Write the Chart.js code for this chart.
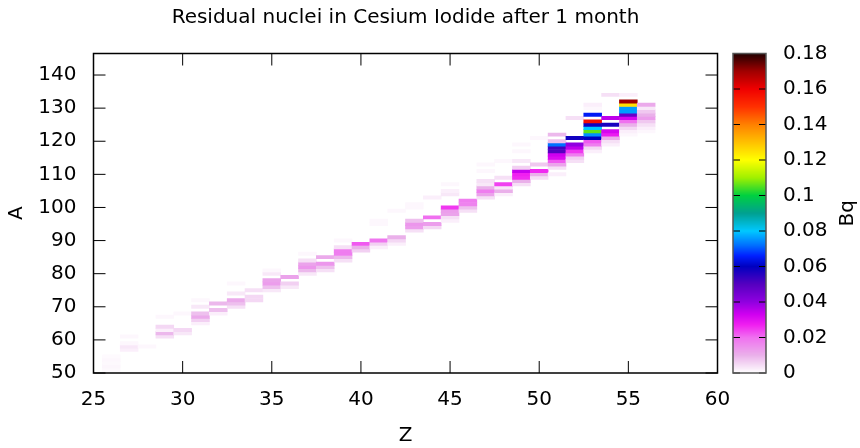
<!DOCTYPE html>
<html>
<head>
<meta charset="utf-8">
<script src="https://cdn.jsdelivr.net/npm/chart.js@4/dist/chart.umd.min.js"></script>
<style>
  html, body { margin: 0; padding: 0; background: #fff; }
</style>
</head>
<body>
<canvas id="chart" width="860" height="448"></canvas>
<script>
// Proton number of each column of the map
const Z_VALUES = [26, 27, 28, 29, 30, 31, 32, 33, 34, 35, 36, 37, 38, 39, 40, 41,
                  42, 43, 44, 45, 46, 47, 48, 49, 50, 51, 52, 53, 54, 55, 56];
// Mass number of the first cell listed for each column
const A_FIRST = [51, 57, 58, 61, 62, 65, 68, 70, 72, 75, 76, 80, 81, 84, 87, 88,
                 89, 93, 94, 96, 99, 103, 104, 107, 109, 110, 114, 117, 119, 122, 123];
// Activity (Bq) of consecutive mass numbers, starting at A_FIRST
const BQ = [
  [0.0008, 0.0012, 0.0008, 0.001, 0.0006],
  [0.002, 0.003, 0.001, 0, 0.001],
  [0.001],
  [0.004, 0.009, 0.002, 0.005, 0, 0, 0.001],
  [0.003, 0.005, 0, 0, 0, 0, 0.001],
  [0.002, 0.006, 0.011, 0.008, 0, 0.003, 0, 0.001],
  [0.002, 0.008, 0, 0.009],
  [0.004, 0.008, 0.011, 0, 0.003, 0, 0, 0.001],
  [0.005, 0.005, 0, 0.004],
  [0.003, 0.008, 0.013, 0.012, 0, 0.003, 0.001],
  [0.003, 0.006, 0, 0.012],
  [0.003, 0.009, 0.014, 0.012, 0.004, 0, 0.001],
  [0.004, 0.008, 0.014, 0, 0.011],
  [0.004, 0.009, 0.018, 0.018, 0.004, 0, 0.001],
  [0.006, 0.010, 0.022],
  [0.002, 0.006, 0.019, 0, 0, 0, 0, 0.001, 0.001],
  [0.002, 0.005, 0.010, 0, 0, 0, 0, 0, 0, 0, 0.001],
  [0.004, 0.013, 0.014, 0.008, 0, 0, 0, 0.001, 0.001],
  [0.005, 0.013, 0, 0.020, 0, 0, 0, 0, 0, 0.002],
  [0.002, 0.004, 0.012, 0.013, 0.025, 0, 0, 0, 0.003, 0.002, 0, 0.001],
  [0.004, 0.008, 0.017, 0.018],
  [0.004, 0.012, 0.018, 0.010, 0.003, 0.004, 0, 0, 0.001, 0, 0.001],
  [0.002, 0.010, 0.003, 0.024, 0, 0.004, 0, 0, 0, 0, 0.001],
  [0.004, 0.010, 0.026, 0.027, 0.034, 0.006, 0, 0.003, 0, 0, 0.001, 0, 0.001],
  [0.004, 0.010, 0.026, 0, 0.007, 0, 0, 0, 0, 0, 0, 0, 0.001],
  [0.002, 0, 0.004, 0.012, 0.022, 0.031, 0.033, 0.050, 0.052, 0.072, 0.008, 0, 0.009],
  [0.004, 0.006, 0.018, 0.025, 0.035, 0.040, 0, 0.058, 0, 0, 0, 0, 0, 0.004],
  [0.002, 0.005, 0.018, 0.022, 0.060, 0.075, 0.106, 0.080, 0.058, 0.157, 0, 0.065, 0, 0.001, 0.002],
  [0.002, 0.004, 0.011, 0.028, 0.032, 0, 0.057, 0, 0.035, 0, 0, 0, 0, 0, 0, 0.004],
  [0.001, 0.002, 0.005, 0.010, 0.020, 0.032, 0.047, 0.076, 0.076, 0.125, 0.170, 0, 0.002],
  [0.001, 0.002, 0.004, 0.007, 0.013, 0.010, 0.007, 0.003, 0.011]
];
// Axis ranges and tick steps
const Z_RANGE = [25, 60];
const A_RANGE = [50, 146.5];
const BQ_RANGE = [0, 0.18];
const Z_STEP = 5, A_STEP = 10, BQ_STEP = 0.02;

// Colour palette: activity -> colour stops
const PALETTE = [
  [0.000, [255, 255, 255]], [0.005, [244, 216, 244]], [0.010, [234, 176, 234]],
  [0.020, [240, 112, 240]], [0.027, [240, 32, 240]], [0.033, [208, 0, 240]],
  [0.040, [144, 0, 224]], [0.050, [85, 0, 192]], [0.060, [0, 0, 192]],
  [0.066, [0, 32, 255]], [0.072, [0, 112, 255]], [0.080, [0, 200, 255]],
  [0.090, [0, 160, 144]], [0.100, [0, 208, 64]], [0.110, [160, 240, 0]],
  [0.120, [255, 255, 0]], [0.130, [255, 192, 0]], [0.140, [255, 128, 0]],
  [0.150, [255, 48, 0]], [0.160, [240, 0, 0]], [0.170, [160, 0, 0]],
  [0.180, [32, 0, 0]]
];

function colorFor(v) {
  if (v <= PALETTE[0][0]) return 'rgb(255,255,255)';
  for (let i = 1; i < PALETTE.length; i++) {
    const [v1, c1] = PALETTE[i];
    if (v <= v1) {
      const [v0, c0] = PALETTE[i - 1];
      const t = (v - v0) / (v1 - v0);
      const c = c0.map((a, k) => Math.round(a + (c1[k] - a) * t));
      return `rgb(${c[0]},${c[1]},${c[2]})`;
    }
  }
  const c = PALETTE[PALETTE.length - 1][1];
  return `rgb(${c[0]},${c[1]},${c[2]})`;
}

// One floating bar per nuclide: spans A-0.5 .. A+0.5 at its Z
const cells = [];
Z_VALUES.forEach((z, i) => {
  BQ[i].forEach((v, k) => {
    if (v > 0) {
      const a = A_FIRST[i] + k;
      cells.push({ x: z, y: [a - 0.5, a + 0.5], v: v });
    }
  });
});

const FONT = { family: 'DejaVu Sans', size: 20 };
const TICK_LEN = 12;
const CB_GAP = 15.5, CB_WIDTH = 33, CB_TICK = 7;

const frameAndColorbar = {
  id: 'frameAndColorbar',
  afterDatasetsDraw(chart) {
    const { ctx, chartArea: ca, scales } = chart;
    const xs = scales.x, ys = scales.y, cb = scales.cb;
    ctx.save();

    // inward tick marks on all four sides
    ctx.strokeStyle = '#000';
    ctx.lineWidth = 1;
    ctx.beginPath();
    xs.ticks.forEach(t => {
      const px = xs.getPixelForValue(t.value);
      ctx.moveTo(px, ca.bottom); ctx.lineTo(px, ca.bottom - TICK_LEN);
      ctx.moveTo(px, ca.top); ctx.lineTo(px, ca.top + TICK_LEN);
    });
    ys.ticks.forEach(t => {
      const py = ys.getPixelForValue(t.value);
      ctx.moveTo(ca.left, py); ctx.lineTo(ca.left + TICK_LEN, py);
      ctx.moveTo(ca.right, py); ctx.lineTo(ca.right - TICK_LEN, py);
    });
    ctx.stroke();

    // plot frame
    ctx.lineWidth = 1.5;
    ctx.strokeRect(ca.left, ca.top, ca.right - ca.left, ca.bottom - ca.top);

    // colour bar
    const x0 = ca.right + CB_GAP, x1 = x0 + CB_WIDTH;
    const top = cb.getPixelForValue(BQ_RANGE[1]);
    const bottom = cb.getPixelForValue(BQ_RANGE[0]);
    for (let y = Math.floor(top); y < Math.ceil(bottom); y++) {
      ctx.fillStyle = colorFor(cb.getValueForPixel(y + 0.5));
      ctx.fillRect(x0, y, CB_WIDTH, 1);
    }
    ctx.strokeStyle = '#000';
    ctx.lineWidth = 1;
    ctx.beginPath();
    cb.ticks.forEach(t => {
      const py = cb.getPixelForValue(t.value);
      ctx.moveTo(x0, py); ctx.lineTo(x0 + CB_TICK, py);
      ctx.moveTo(x1, py); ctx.lineTo(x1 - CB_TICK, py);
    });
    ctx.stroke();
    ctx.strokeStyle = '#555';
    ctx.lineWidth = 1.5;
    ctx.strokeRect(x0, top, CB_WIDTH, bottom - top);

    // colour bar label, read bottom to top
    ctx.fillStyle = '#000';
    ctx.font = `${FONT.size}px ${FONT.family}`;
    ctx.textAlign = 'center';
    ctx.textBaseline = 'middle';
    ctx.translate(848, (top + bottom) / 2);
    ctx.rotate(-Math.PI / 2);
    ctx.fillText('Bq', 0, 0);
    ctx.restore();
  }
};

new Chart(document.getElementById('chart'), {
  type: 'bar',
  data: {
    datasets: [{
      data: cells,
      backgroundColor: c => colorFor(c.raw ? c.raw.v : 0),
      borderWidth: 0,
      borderSkipped: false,
      barPercentage: 1,
      categoryPercentage: 1
    }]
  },
  options: {
    responsive: false,
    animation: false,
    events: [],
    layout: { padding: 0 },
    plugins: {
      legend: { display: false },
      tooltip: { enabled: false },
      title: {
        display: true,
        fullSize: false,
        text: 'Residual nuclei in Cesium Iodide after 1 month',
        color: '#000',
        font: { family: FONT.family, size: FONT.size, weight: 'normal' },
        padding: { top: 6, bottom: 23.5 }
      }
    },
    scales: {
      x: {
        type: 'linear',
        position: 'bottom',
        min: Z_RANGE[0], max: Z_RANGE[1],
        offset: false,
        grid: { display: false, drawTicks: false, offset: false },
        border: { display: false },
        ticks: { stepSize: Z_STEP, color: '#000', font: FONT, padding: 15, maxRotation: 0 },
        title: { display: true, text: 'Z', color: '#000', font: FONT, padding: { top: 0, bottom: 0 } },
        afterFit: s => { s.height = 75; }
      },
      y: {
        type: 'linear',
        position: 'left',
        min: A_RANGE[0], max: A_RANGE[1],
        grid: { display: false, drawTicks: false },
        border: { display: false },
        ticks: { stepSize: A_STEP, includeBounds: false, color: '#000', font: FONT, padding: 17 },
        title: { display: true, text: 'A', color: '#000', font: FONT, padding: { top: 5, bottom: 0 } },
        afterFit: s => { s.width = 93.5; }
      },
      cb: {
        type: 'linear',
        axis: 'y',
        position: 'right',
        min: BQ_RANGE[0], max: BQ_RANGE[1],
        // invisible tick marks keep the labels clear of the colour bar
        grid: { drawOnChartArea: false, drawTicks: true, tickLength: 60, tickColor: 'rgba(0,0,0,0)' },
        border: { display: false },
        ticks: {
          stepSize: BQ_STEP, includeBounds: false, color: '#000', font: FONT, padding: 5.5,
          callback: v => String(+v.toFixed(2))
        },
        afterFit: s => { s.width = 142.5; }
      }
    }
  },
  plugins: [frameAndColorbar]
});
</script>
</body>
</html>
